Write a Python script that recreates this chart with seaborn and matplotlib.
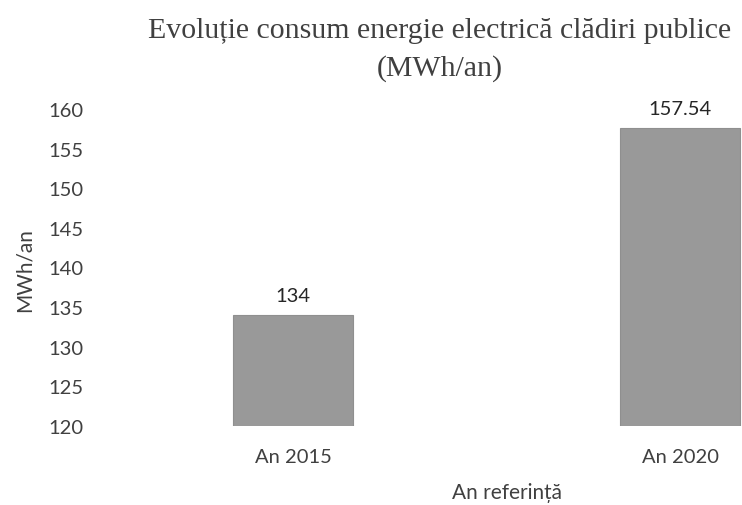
import matplotlib
matplotlib.use("Agg")
import matplotlib.pyplot as plt
import seaborn as sns
import pandas as pd

# Data
categories = ["An 2015", "An 2020"]
values = [134, 157.54]
value_labels = ["134", "157.54"]
yticks = [120, 125, 130, 135, 140, 145, 150, 155, 160]

sns.set_theme(style="white")
plt.rcParams["font.family"] = ["Lato", "DejaVu Sans"]

df = pd.DataFrame({"an": categories, "consum": values})

fig = plt.figure(figsize=(7.42, 5.06), dpi=100)
ax = fig.add_axes([90 / 742, (506 - 427) / 506, 652 / 742, (427 - 110) / 506])

sns.barplot(data=df, x="an", y="consum", color="#999999", width=0.31,
            saturation=1, ax=ax, edgecolor="#8f8f8f", linewidth=0.8)

ax.set_ylim(120, 160)
ax.set_xlim(-0.5245, 1.16)
ax.set_yticks(yticks)
ax.set_yticklabels([str(t) for t in yticks])
for s in ax.spines.values():
    s.set_visible(False)
ax.tick_params(axis="both", length=0, labelsize=14.5, colors="#404040")
ax.tick_params(axis="x", pad=16)
ax.tick_params(axis="y", pad=5)

for i, (v, lab) in enumerate(zip(values, value_labels)):
    ax.annotate(lab, (i, v), xytext=(0, 8), textcoords="offset points",
                ha="center", va="bottom", fontsize=14.5, color="#262626")

ax.set_xlabel("")
ax.set_ylabel("")
fig.text(507 / 742, 1 - 493 / 506, "An referință", ha="center", va="center",
         fontsize=15, color="#404040")
fig.text(25 / 742, 1 - 270 / 506, "MWh/an", ha="center", va="center",
         rotation=90, fontsize=15, color="#404040")

fig.text(440 / 742, 1 - 31 / 506, "Evoluție consum energie electrică clădiri publice",
         ha="center", va="center", fontsize=21.5, color="#404040",
         family=["Liberation Serif", "DejaVu Serif"])
fig.text(440 / 742, 1 - 69 / 506, "(MWh/an)",
         ha="center", va="center", fontsize=21.5, color="#404040",
         family=["Liberation Serif", "DejaVu Serif"])

fig.savefig("out.png", dpi=100)
